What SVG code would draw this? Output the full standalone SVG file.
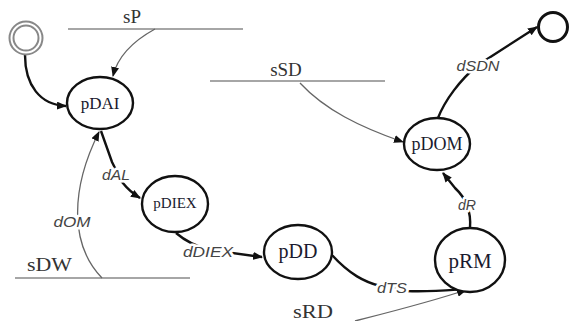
<svg xmlns="http://www.w3.org/2000/svg" width="571" height="321" viewBox="0 0 571 321">
<style>
.node{fill:#fff;stroke:#111;stroke-width:2.4}
.nl{font-family:"Liberation Serif",serif;fill:#1a1a2e;text-anchor:middle;dominant-baseline:central}
.sl{font-family:"Liberation Serif",serif;fill:#333;font-size:19px}
.sline{stroke:#888;stroke-width:1.5;fill:none}
.thick{stroke:#111;stroke-width:2.4;fill:none;marker-end:url(#ah)}
.thin{stroke:#666;stroke-width:1.3;fill:none;marker-end:url(#ah)}
.cl{font-family:"Liberation Sans",sans-serif;font-style:italic;font-size:14px;fill:#444;text-anchor:middle;paint-order:stroke;stroke:#fff;stroke-width:5px;stroke-linejoin:round}
</style>
<defs>
<marker id="ah" markerUnits="userSpaceOnUse" markerWidth="10" markerHeight="8" refX="9" refY="4" orient="auto">
<path d="M0,0 L10,4 L0,8 z" fill="#111"/>
</marker>
</defs>
<g id="states">
<line class="sline" x1="68" y1="29" x2="243" y2="29"/>
<text class="sl" x="132" y="23" text-anchor="middle">sP</text>
<line class="sline" x1="210" y1="81" x2="385" y2="81"/>
<text class="sl" x="286" y="76" text-anchor="middle">sSD</text>
<line class="sline" x1="15" y1="278" x2="190" y2="278"/>
<text class="sl" x="27" y="271" textLength="45" lengthAdjust="spacingAndGlyphs">sDW</text>
<text class="sl" x="293" y="318" textLength="40" lengthAdjust="spacingAndGlyphs">sRD</text>
</g>
<g id="connectors">
<path class="thick" d="M25,55 C25,85 40,105 66,106"/>
<path class="thin" d="M155,29 C135,40 118,55 113,76"/>
<path class="thin" d="M102,278 C70,245 70,190 99,132"/>
<path class="thick" d="M101,131 L112,162 L122,182 Q130,192 140,198"/>
<path class="thick" d="M176,233 Q190,245 210,250 L262,257"/>
<path class="thick" d="M331,254 C350,275 365,282 380,286 L407,291 C430,292 450,290 466,289"/>
<path class="thin" d="M355,321 C390,312 430,302 466,290"/>
<path class="thick" d="M470,228 C471,215 468,200 455,188 L443,173"/>
<path class="thin" d="M300,83 C325,110 360,127 403,142"/>
<path class="thick" d="M438,118 C445,100 460,80 478,65 L537,27"/>
<text class="cl" x="116" y="180" textLength="28" lengthAdjust="spacingAndGlyphs">dAL</text>
<text class="cl" x="72" y="227" textLength="37" lengthAdjust="spacingAndGlyphs">dOM</text>
<text class="cl" x="208" y="257" textLength="50" lengthAdjust="spacingAndGlyphs">dDIEX</text>
<text class="cl" x="392" y="293" textLength="30" lengthAdjust="spacingAndGlyphs">dTS</text>
<text class="cl" x="467" y="210" textLength="18" lengthAdjust="spacingAndGlyphs">dR</text>
<text class="cl" x="478" y="71" textLength="43" lengthAdjust="spacingAndGlyphs">dSDN</text>
</g>
<g id="start">
<circle cx="26" cy="38" r="16.5" fill="#fff" stroke="#888" stroke-width="2"/>
<circle cx="26" cy="38" r="12.5" fill="#fff" stroke="#888" stroke-width="2"/>
</g>
<g id="end">
<circle cx="553" cy="27" r="14.5" fill="#fff" stroke="#111" stroke-width="3"/>
</g>
<g id="pDAI">
<ellipse class="node" cx="100" cy="103" rx="33" ry="26"/>
<text class="nl" x="100" y="103" font-size="17">pDAI</text>
</g>
<g id="pDIEX">
<ellipse class="node" cx="175" cy="204" rx="33" ry="28"/>
<text class="nl" x="175" y="203" font-size="15">pDIEX</text>
</g>
<g id="pDD">
<ellipse class="node" cx="298" cy="252" rx="34" ry="27"/>
<text class="nl" x="298" y="251" font-size="20">pDD</text>
</g>
<g id="pRM">
<ellipse class="node" cx="470" cy="260" rx="35" ry="32"/>
<text class="nl" x="470" y="261" font-size="21">pRM</text>
</g>
<g id="pDOM">
<ellipse class="node" cx="437" cy="144" rx="33" ry="26"/>
<text class="nl" x="437" y="144" font-size="18">pDOM</text>
</g>
</svg>
